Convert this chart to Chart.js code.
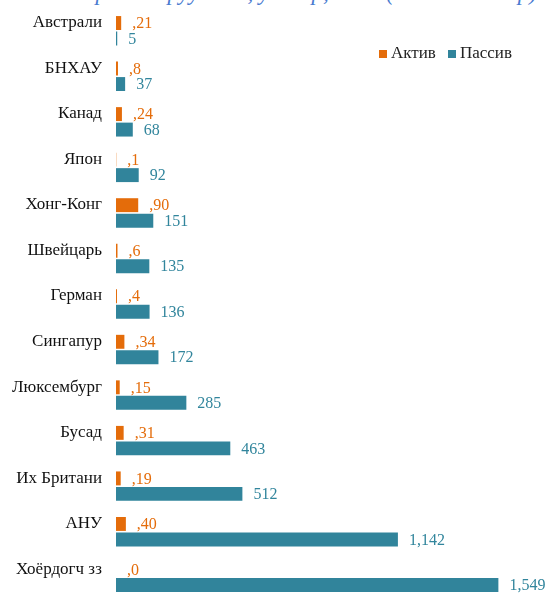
<!DOCTYPE html>
<html>
<head>
<meta charset="utf-8">
<script src="https://cdn.jsdelivr.net/npm/chart.js@4"></script>
<style>
  html, body { margin: 0; padding: 0; background: #fff; overflow: hidden; }
  #wrap { position: relative; width: 551px; height: 594px; overflow: hidden; }
  #chartBox { position: absolute; left: 0; top: 0; width: 551px; height: 600px; }
  #title {
    position: absolute; right: 14px; top: -20px; white-space: nowrap;
    font: italic 23px "Liberation Serif", serif; color: #4a7bd0;
  }
  #legend {
    position: absolute; left: 379px; top: 43px;
    font: 17px "Liberation Serif", serif; color: #222; white-space: nowrap;
  }
  #legend span.box { display: inline-block; width: 8px; height: 8px; margin-right: 4px; }
  #legend span.item { margin-right: 12px; }
</style>
</head>
<body>
<div id="wrap">
  <div id="title">Гадаад хөрөнгө оруулалт, улсаар, 2023 (сая ам.доллар)</div>
  <div id="chartBox"><canvas id="fdiChart"></canvas></div>
  <div id="legend">
    <span class="item"><span class="box" style="background:#e46c0a"></span>Актив</span><span><span class="box" style="background:#31849b"></span>Пассив</span>
  </div>
</div>
<script>
// Countries (top to bottom)
const categories = [
  'Австрали', 'БНХАУ', 'Канад', 'Япон', 'Хонг-Конг', 'Швейцарь', 'Герман',
  'Сингапур', 'Люксембург', 'Бусад', 'Их Британи', 'АНУ', 'Хоёрдогч зз'
];
// Active (asset) values
const activeValues = [21, 8, 24, 1, 90, 6, 4, 34, 15, 31, 19, 40, 0];
// Passive (liability) values
const passiveValues = [5, 37, 68, 92, 151, 135, 136, 172, 285, 463, 512, 1142, 1549];

const ORANGE = '#e46c0a';
const TEAL = '#31849b';

// Value labels drawn next to the end of each bar
const valueLabels = {
  id: 'valueLabels',
  afterDatasetsDraw(chart) {
    const ctx = chart.ctx;
    ctx.save();
    ctx.font = '16px "Liberation Serif", serif';
    ctx.textBaseline = 'middle';
    ctx.textAlign = 'left';
    chart.data.datasets.forEach((ds, i) => {
      const meta = chart.getDatasetMeta(i);
      meta.data.forEach((bar, j) => {
        const v = ds.data[j];
        // the source sheet shows the active numbers with a leading comma
        const txt = i === 0 ? ',' + v : v.toLocaleString('en-US');
        ctx.fillStyle = i === 0 ? ORANGE : '#31859c';
        ctx.fillText(txt, bar.x + 11, bar.y + 1);
      });
    });
    ctx.restore();
  }
};

new Chart(document.getElementById('fdiChart'), {
  type: 'bar',
  data: {
    labels: categories.map(c => [c, '']), // second empty line lifts the label up
    datasets: [
      { label: 'Актив', data: activeValues, backgroundColor: ORANGE,
        categoryPercentage: 0.68, barPercentage: 0.9 },
      { label: 'Пассив', data: passiveValues, backgroundColor: TEAL,
        categoryPercentage: 0.68, barPercentage: 0.9 }
    ]
  },
  options: {
    indexAxis: 'y',
    responsive: true,
    maintainAspectRatio: false,
    animation: false,
    layout: { padding: { top: 8, right: 3, bottom: 0, left: 0 } },
    plugins: {
      legend: { display: false },
      tooltip: { enabled: false }
    },
    scales: {
      x: {
        display: false,
        min: 0,
        max: 1750
      },
      y: {
        grid: { display: false, drawTicks: false },
        border: { display: false },
        ticks: {
          color: '#111',
          padding: 14,
          font: { family: '"Liberation Serif", serif', size: 17, lineHeight: '16px' }
        },
        afterFit(scale) {
          scale.width = 116;
          scale.paddingTop = 0;
          scale.paddingBottom = 0;
        }
      }
    }
  },
  plugins: [valueLabels]
});
</script>
</body>
</html>
